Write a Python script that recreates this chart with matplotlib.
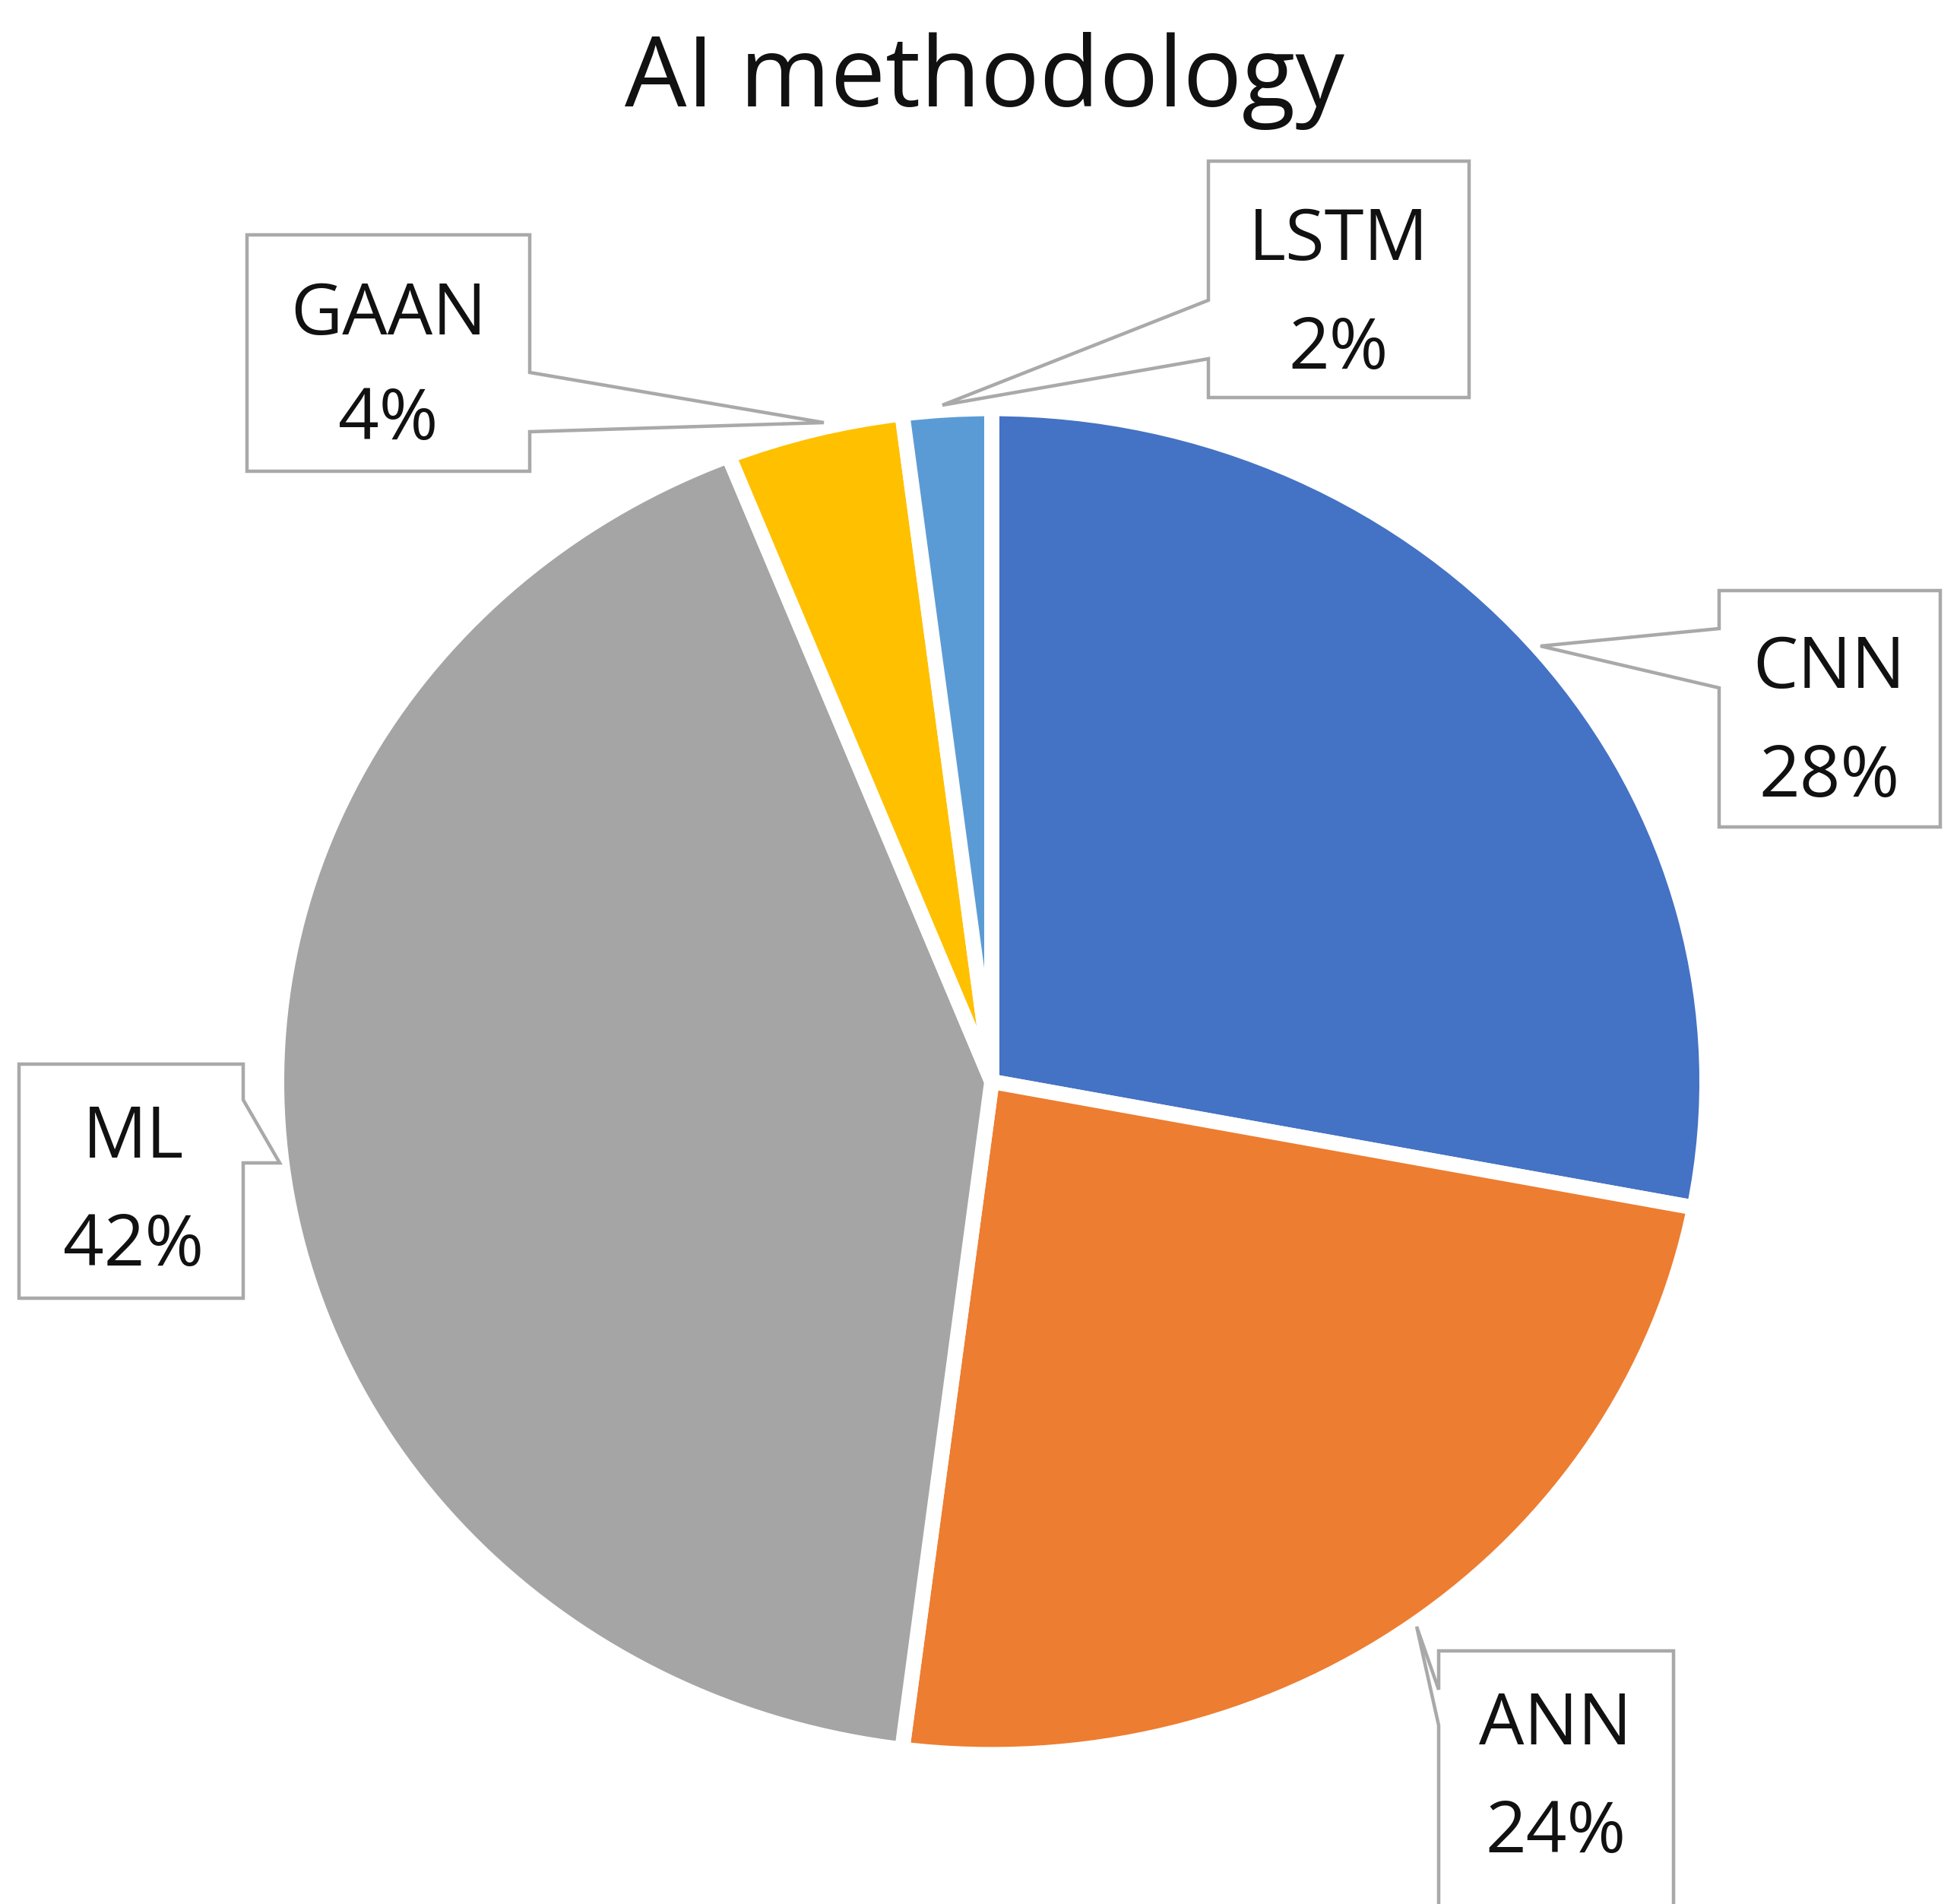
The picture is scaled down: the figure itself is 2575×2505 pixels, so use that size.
import matplotlib
matplotlib.use("Agg")
import matplotlib.pyplot as plt
from matplotlib.patches import Polygon

# ---- data ----
categories = ["CNN", "ANN", "ML", "GAAN", "LSTM"]
shares = [28, 24, 42, 4, 2]
colors = ["#4472C4", "#ED7D31", "#A5A5A5", "#FFC000", "#5B9BD5"]
title = "AI methodology"

# ---- layout (pixel coordinates of the 2575x2505 canvas) ----
W, H = 2575, 2505
CX, CY = 1305, 1423          # pie centre
RX, RY = 931, 876            # pie radii (image is slightly stretched)
PT = 0.72                    # points per pixel at dpi 100

# callout layout: box (L, T, R, B), side of pointer, notch y-range, tip, text x, baselines
layout = {
    "CNN":  dict(box=(2262, 777, 2553, 1088), side="left",  notch=(827, 905),   tip=(2027, 850),  tx=2407, b1=905,  b2=1048),
    "ANN":  dict(box=(1893, 2172, 2202, 2600), side="left", notch=(2223, 2270), tip=(1864, 2140), tx=2047, b1=2295, b2=2437),
    "ML":   dict(box=(25, 1400, 320, 1708),   side="right", notch=(1447, 1530), tip=(368, 1530),  tx=176,  b1=1523, b2=1665),
    "GAAN": dict(box=(325, 309, 697, 620),    side="right", notch=(490, 568),   tip=(1084, 556),  tx=511,  b1=440,  b2=578),
    "LSTM": dict(box=(1590, 212, 1933, 523),  side="left",  notch=(395, 472),   tip=(1240, 533),  tx=1761, b1=342,  b2=485),
}

def P(x, y):
    return ((x - CX) / RX, (CY - y) / RY)

plt.rcParams["font.family"] = ["Open Sans", "DejaVu Sans"]
fig = plt.figure(figsize=(W / 100, H / 100), dpi=100)
ax = fig.add_axes([0, 0, 1, 1])

gap_px = 20
ax.pie(shares, colors=colors, startangle=90, counterclock=False,
       radius=1 + gap_px / 2 / RX, center=(0, 0),
       wedgeprops=dict(edgecolor="white", linewidth=gap_px * PT, joinstyle="round"))

ax.set_aspect("auto")
ax.set_xlim(P(0, 0)[0], P(W, 0)[0])
ax.set_ylim(P(0, H)[1], P(0, 0)[1])
ax.axis("off")

edge = "#A9A9A9"
label_fs = 94 * PT
for cat, val in zip(categories, shares):
    d = layout[cat]
    L, T, R, B = d["box"]
    y1, y2 = d["notch"]
    tip = d["tip"]
    if d["side"] == "left":
        pts = [(L, T), (R, T), (R, B), (L, B), (L, y2), tip, (L, y1)]
    else:
        pts = [(L, T), (R, T), (R, y1), tip, (R, y2), (R, B), (L, B)]
    poly = Polygon([P(*p) for p in pts], closed=True, facecolor="white",
                   edgecolor=edge, linewidth=4.5 * PT, joinstyle="miter", zorder=3)
    ax.add_patch(poly)
    ax.text(*P(d["tx"], d["b1"]), cat, ha="center", va="baseline",
            fontsize=label_fs, color="#111111", zorder=4)
    ax.text(*P(d["tx"], d["b2"]), f"{val}%", ha="center", va="baseline",
            fontsize=label_fs, color="#111111", zorder=4)

ax.text(*P(1295, 140), title, ha="center", va="baseline",
        fontsize=129 * PT, color="#111111", zorder=4)

fig.savefig("out.png", dpi=100, facecolor="white")
